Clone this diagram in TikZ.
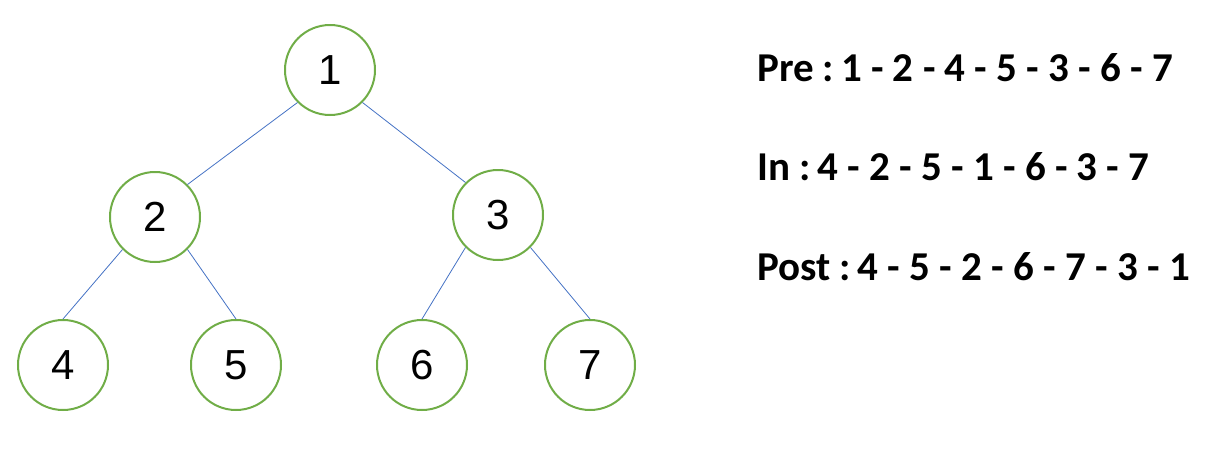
\documentclass[tikz,border=0pt]{standalone}
\usepackage{fontspec}
\setmainfont{Carlito}
\newfontfamily\digitfont{Liberation Sans}
\usetikzlibrary{positioning}
\definecolor{cNode}{RGB}{112,173,71}
\definecolor{cEdge}{RGB}{68,114,196}
\tikzset{
	treenode/.style={circle, draw=cNode, line width=2pt, minimum size=90pt, inner sep=0pt, font=\digitfont\fontsize{42}{48}\selectfont},
	edge/.style    ={draw=cEdge, line width=0.8pt},
	order/.style   ={anchor=base west, inner sep=0pt, font=\bfseries\fontsize{41}{46}\selectfont},
}
\begin{document}
\begin{tikzpicture}[x=1pt, y=-1pt]
	\useasboundingbox (0,0) rectangle (1224,474);
	% tree
	\node[treenode] (n1) at (330,70) {1};
	\node[treenode] (n2) at (155,217) {2};
	\node[treenode] (n3) at (498,215) {3};
	\node[treenode] (n4) at (63,365) {4};
	\node[treenode] (n5) at (236,365) {5};
	\node[treenode] (n6) at (422,365) {6};
	\node[treenode] (n7) at (590,365) {7};
	\draw[edge] (n1.-135) -- (n2.45);
	\draw[edge] (n1.-45) -- (n3.135);
	\draw[edge] (n2.-135) -- (n4.north);
	\draw[edge] (n2.-45) -- (n5.north);
	\draw[edge] (n3.-135) -- (n6.north);
	\draw[edge] (n3.-45) -- (n7.north);
	% traversal orders
	\node[order] (pre) at (757,81) {Pre :\,1 - 2 - 4 - 5 - 3 - 6 - 7};
	\node[order] (in) at (757,180) {In :\,4 - 2 - 5 - 1 - 6 - 3 - 7};
	\node[order] (post) at (757,280) {Post :\,4 - 5 - 2 - 6 - 7 - 3 - 1};
\end{tikzpicture}
\end{document}
